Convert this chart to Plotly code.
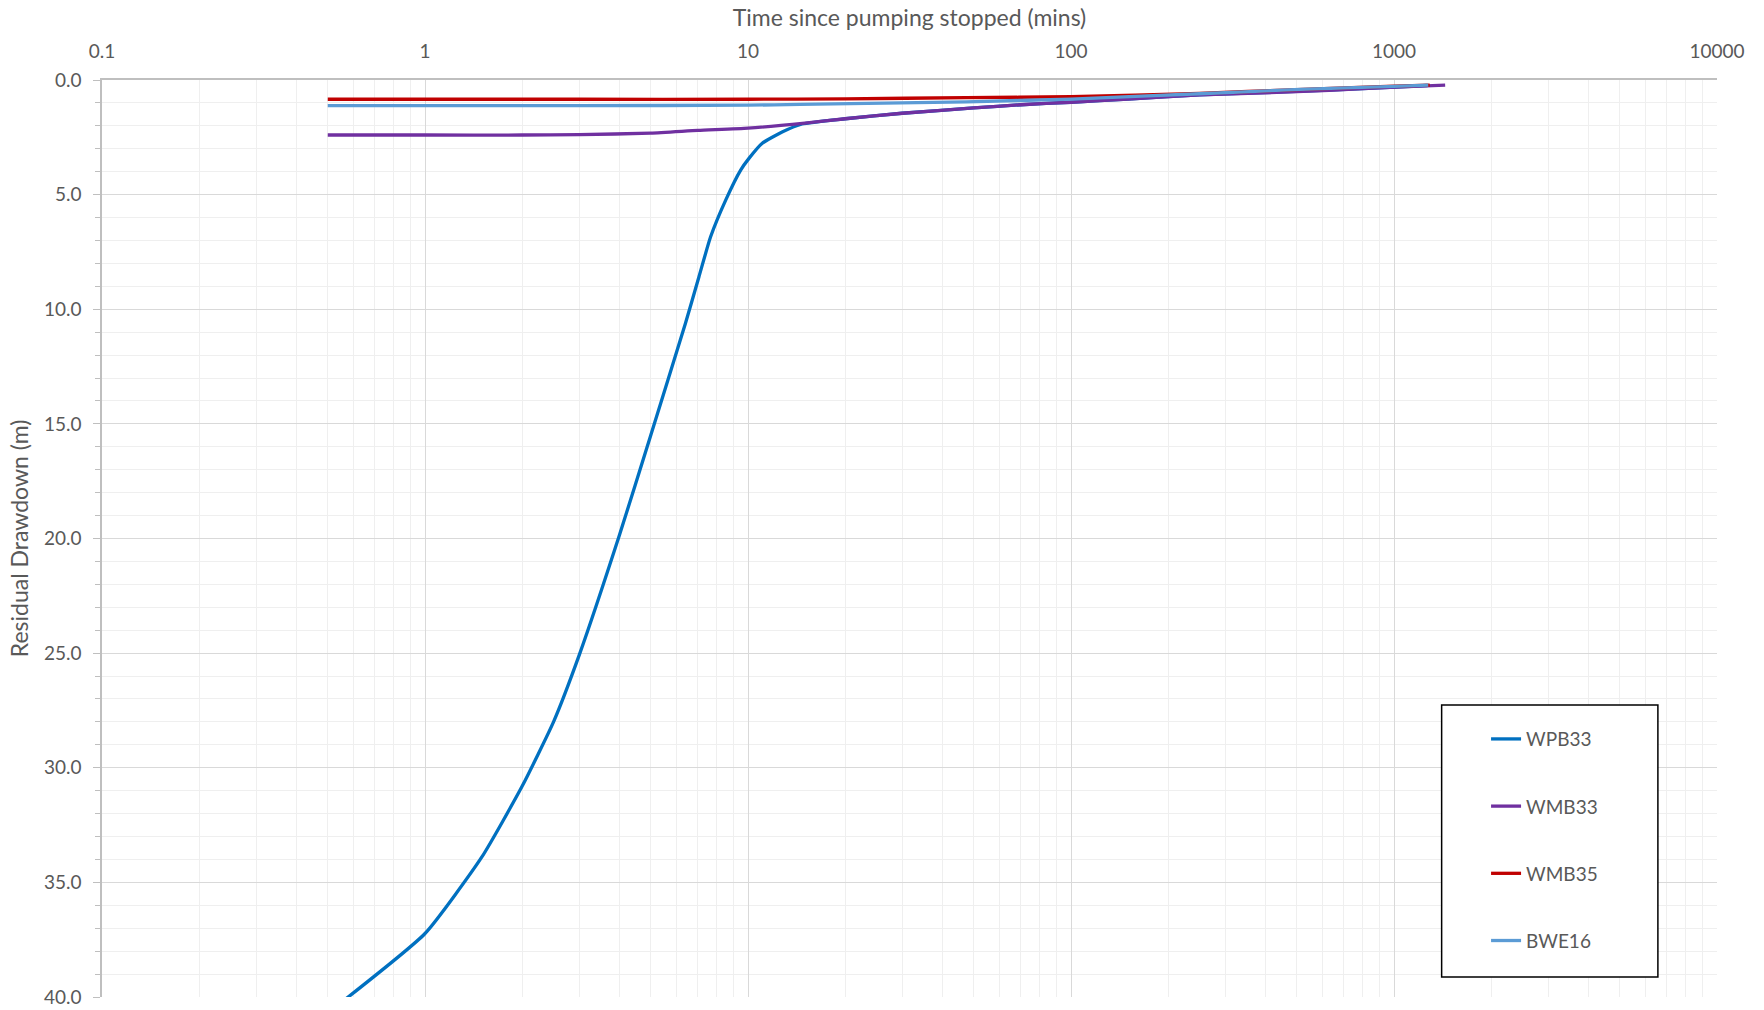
import plotly.graph_objects as go

# ---- data ----
wpb33_t = [0.5, 1, 1.5, 2, 2.5, 3, 4, 5, 6.4, 7.05, 7.66, 8.53, 9.49, 10.07, 11.07, 12.8, 14.7, 20, 30, 50, 70, 100, 150, 250, 500, 800, 1270]
wpb33_s = [40.7, 37.23, 33.89, 30.8, 28.0, 25.1, 19.85, 15.5, 10.62, 8.58, 6.84, 5.24, 3.93, 3.42, 2.76, 2.26, 1.92, 1.69, 1.45, 1.22, 1.08, 0.97, 0.83, 0.65, 0.50, 0.38, 0.24]

wmb33_t = [0.5, 1, 2, 3, 5, 7, 10, 15, 20, 30, 50, 70, 100, 150, 250, 500, 800, 1100, 1440]
wmb33_s = [2.40, 2.40, 2.40, 2.38, 2.32, 2.20, 2.10, 1.88, 1.69, 1.45, 1.22, 1.08, 0.97, 0.83, 0.65, 0.51, 0.38, 0.29, 0.22]

wmb35_t = [0.5, 1, 3, 10, 20, 47.5, 100, 250, 500, 1000, 1290]
wmb35_s = [0.84, 0.84, 0.84, 0.84, 0.82, 0.77, 0.73, 0.58, 0.42, 0.27, 0.22]

bwe16_t = [0.5, 1, 3, 10, 14.5, 47.5, 100, 250, 512, 1000, 1277]
bwe16_s = [1.12, 1.12, 1.12, 1.10, 1.06, 0.95, 0.83, 0.60, 0.41, 0.28, 0.22]

x_tickvals = [0.1, 1, 10, 100, 1000, 10000]
x_ticktext = ["0.1", "1", "10", "100", "1000", "10000"]
y_tickvals = [0, 5, 10, 15, 20, 25, 30, 35, 40]

# ---- figure ----
FONT = "Lato"
TXT = "#595959"

fig = go.Figure()
series = [
    ("WPB33", wpb33_t, wpb33_s, "#0070C0"),
    ("WMB33", wmb33_t, wmb33_s, "#7030A0"),
    ("WMB35", wmb35_t, wmb35_s, "#C00000"),
    ("BWE16", bwe16_t, bwe16_s, "#5B9BD5"),
]
for name, t, s, col in series:
    fig.add_trace(go.Scatter(x=t, y=s, mode="lines", name=name, legendgroup=name,
                             line=dict(color=col, width=3.3, shape="spline", smoothing=0.5)))

minor_x = [m * 10.0 ** d for d in range(-1, 4) for m in range(2, 10)]

fig.update_layout(
    width=1764, height=1010,
    margin=dict(l=102, r=47, t=80, b=13),
    paper_bgcolor="white", plot_bgcolor="white",
    font=dict(family=FONT, color=TXT, size=19),
    showlegend=True,
    legend=dict(x=0.857, y=0.302, xanchor="left", yanchor="top",
                bgcolor="rgba(0,0,0,0)", borderwidth=0,
                traceorder="grouped", tracegroupgap=39.5,
                font=dict(family=FONT, size=19, color=TXT)),
    shapes=[dict(type="rect", xref="paper", yref="paper",
                 x0=0.8295, x1=0.9634, y0=0.0218, y1=0.3184,
                 fillcolor="white", line=dict(color="black", width=1.5), layer="above")],
)

fig.update_xaxes(
    type="log", side="top", range=[-1, 4], automargin=False,
    tickmode="array", tickvals=x_tickvals, ticktext=x_ticktext,
    showgrid=True, gridcolor="#d9d9d9", gridwidth=1,
    minor=dict(tickvals=minor_x, showgrid=True, gridcolor="#efefef", gridwidth=1, ticks=""),
    showline=True, linecolor="#bfbfbf", linewidth=1.5,
    ticks="", tickfont=dict(size=19, color=TXT), ticklabelstandoff=13,
    title=dict(text="Time since pumping stopped (mins)", font=dict(size=23, color=TXT), standoff=6),
    zeroline=False,
)
fig.update_yaxes(
    range=[40, 0], autorange=False, automargin=False,
    tickmode="array", tickvals=y_tickvals, tickformat=".1f",
    showgrid=True, gridcolor="#d9d9d9", gridwidth=1,
    minor=dict(dtick=1, showgrid=True, gridcolor="#efefef", gridwidth=1,
               ticks="outside", ticklen=5, tickcolor="#bfbfbf"),
    ticks="outside", ticklen=7, tickcolor="#bfbfbf",
    showline=True, linecolor="#bfbfbf", linewidth=1.5,
    tickfont=dict(size=19, color=TXT), ticklabelstandoff=8,
    title=dict(text="Residual Drawdown (m)", font=dict(size=23, color=TXT), standoff=9),
    zeroline=False,
)

fig.write_html(
    "out.html",
    config={"displayModeBar": False},
    post_script="document.body.style.margin='0';document.body.style.overflow='hidden';",
)
